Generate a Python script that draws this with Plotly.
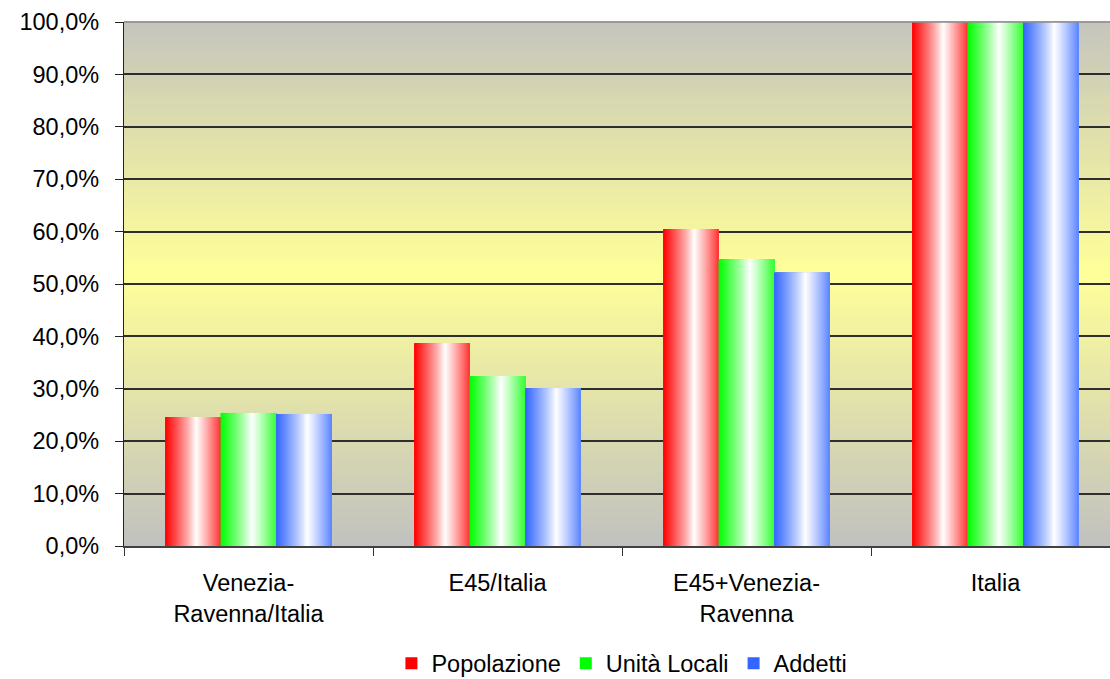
import plotly.graph_objects as go

# Categories and series values (share of the Italian total)
categories = ["Venezia-<br>Ravenna/Italia", "E45/Italia", "E45+Venezia-<br>Ravenna", "Italia"]
popolazione = [0.246, 0.387, 0.605, 1.0]
unita_locali = [0.254, 0.324, 0.547, 1.0]
addetti = [0.252, 0.301, 0.522, 1.0]

series_names = ["Popolazione", "Unità Locali", "Addetti"]
series_values = [popolazione, unita_locali, addetti]
series_colors = [(255, 0, 0), (0, 255, 0), (51, 102, 255)]

y_ticks = [0.0, 0.1, 0.2, 0.3, 0.4, 0.5, 0.6, 0.7, 0.8, 0.9, 1.0]

FONT = "Liberation Sans, Arial, sans-serif"
FS = 23.5
BAR_W = 0.223          # width of one bar in category units
GROUP_START = -1.5 * BAR_W
N_SLICES = 44          # vertical strips used to paint the horizontal shading


def mix(c, i):
    """Blend colour c with white; i = 1 gives c, i = 0 gives white."""
    return "rgb({},{},{})".format(*[round(255 + (ch - 255) * i) for ch in c])


def shade(p):
    """Colour intensity across the bar: strong at the left, white near the middle."""
    w = 0.55
    if p < w:
        return (1 - p / w) ** 0.85
    return 0.8 * ((p - w) / (1 - w)) ** 1.1


fig = go.Figure()

for idx, (name, vals, col) in enumerate(zip(series_names, series_values, series_colors)):
    start = GROUP_START + idx * BAR_W
    # base bar, also used for the legend entry
    fig.add_trace(go.Bar(
        x=categories, y=vals, name=name,
        width=BAR_W, offset=start,
        marker=dict(color=mix(col, 1.0), line=dict(width=0)),
        hovertemplate="%{y:.1%}<extra>" + name + "</extra>",
    ))
    sw = BAR_W / N_SLICES
    for k in range(N_SLICES):
        p = (k + 0.5) / N_SLICES
        wk = min(sw * 3.0, BAR_W - k * sw)
        fig.add_trace(go.Bar(
            x=categories, y=vals, showlegend=False, hoverinfo="skip",
            width=wk, offset=start + k * sw,
            marker=dict(color=mix(col, shade(p)), line=dict(width=0)),
        ))

# plot-area background: grey at the edges, pale yellow in the middle
gray = (192, 192, 192)
yellow = (255, 255, 153)
M = 120
for j in range(M):
    t = (j + 0.5) / M
    d = 1 - abs(t - 0.52) / 0.52
    d = max(0.0, min(1.0, d))
    c = tuple(round(g + (yv - g) * d) for g, yv in zip(gray, yellow))
    fig.add_shape(
        type="rect", xref="x domain", yref="y domain",
        x0=0, x1=1, y0=j / M, y1=(j + 1) / M + 0.002,
        fillcolor="rgb({},{},{})".format(*c), line=dict(width=0), layer="below",
    )

# top border of the plot area
fig.add_shape(type="line", xref="x domain", yref="y domain", x0=0, x1=1, y0=1, y1=1,
              line=dict(color="#8a8a8a", width=1.5), layer="above")

plot_px = 1110 - 124
fig.update_layout(
    width=1110, height=679,
    margin=dict(l=124, r=0, t=22, b=133, autoexpand=False),
    paper_bgcolor="white", plot_bgcolor="rgb(192,192,192)",
    barmode="overlay", bargap=0.33,
    separators=",.",
    font=dict(family=FONT, size=FS, color="black"),
    showlegend=True,
    legend=dict(orientation="h", x=0.505, xanchor="center", y=-0.224, yanchor="middle",
                font=dict(size=FS), itemwidth=30, traceorder="normal",
                bgcolor="rgba(0,0,0,0)"),
    xaxis=dict(
        type="category", range=[-0.5, -0.5 + plot_px / 249.0],
        tickson="boundaries", ticks="outside", ticklen=8, tickcolor="#333",
        showline=True, linecolor="#404040", linewidth=1.5,
        showgrid=False, tickfont=dict(size=FS), ticklabelstandoff=15,
        automargin=False,
    ),
    yaxis=dict(
        range=[0, 1], tickvals=y_ticks, tickformat=".1%",
        ticks="outside", ticklen=8, tickcolor="#222",
        showline=True, linecolor="#222", linewidth=1.2,
        showgrid=True, gridcolor="#2e2e2e", gridwidth=1.5,
        zeroline=False, tickfont=dict(size=FS), ticklabelstandoff=11,
        automargin=False,
    ),
)

fig.write_html("out.html")
